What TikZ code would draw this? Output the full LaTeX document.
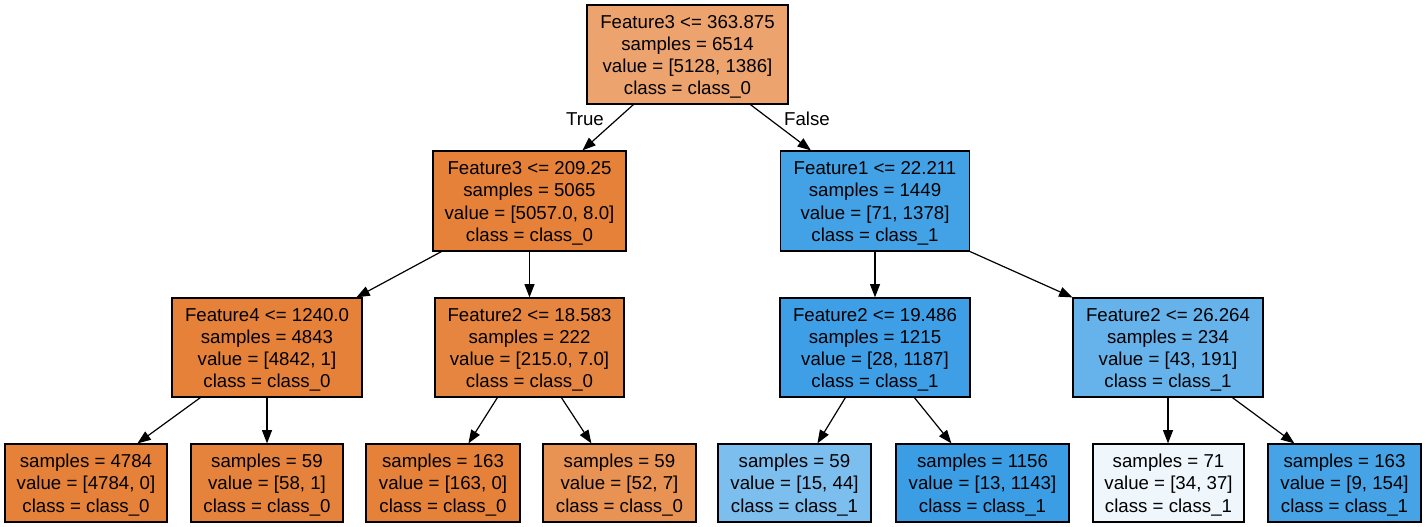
\documentclass[tikz,border=0pt]{standalone}
\usepackage{fontspec}
\setmainfont{Liberation Sans}
\usetikzlibrary{arrows.meta,calc}
\definecolor{cRoot}{RGB}{236,163,110}
\definecolor{cOr}{RGB}{229,129,57}
\definecolor{cOrA}{RGB}{230,133,63}
\definecolor{cOrB}{RGB}{229,131,60}
\definecolor{cOrC}{RGB}{232,146,84}
\definecolor{cBlA}{RGB}{67,162,230}
\definecolor{cBlB}{RGB}{62,159,230}
\definecolor{cBlC}{RGB}{102,179,235}
\definecolor{cBlD}{RGB}{124,190,238}
\definecolor{cBlE}{RGB}{59,158,229}
\definecolor{cBlF}{RGB}{239,247,253}
\definecolor{cBlG}{RGB}{69,163,230}
\newcommand{\tpad}{\rule{0pt}{13.2pt}}
\tikzset{
  bx/.style n args={2}{draw=black, line width=0.9pt, inner sep=0pt,
    minimum width=#1*0.75pt, minimum height=#2*0.75pt,
    align=center, font=\fontsize{14pt}{16.7pt}\selectfont},
  arr/.style={draw=black, line width=0.9pt, -{Triangle[length=10pt,width=7.5pt]}},
  lbl/.style={font=\fontsize{14pt}{16.7pt}\selectfont, inner sep=0pt}
}
\begin{document}
\begin{tikzpicture}[x=0.75pt,y=-0.75pt]
\useasboundingbox (0,0) rectangle (1426,527);
% level 0
\node[bx={201}{99}, fill=cRoot] (root) at (687.5,54.5)
  {\tpad Feature3 <= 363.875\\samples = 6514\\value = [5128, 1386]\\class = class\_0};
% level 1
\node[bx={193}{100}, fill=cOr] (n1) at (529.5,201)
  {\tpad Feature3 <= 209.25\\samples = 5065\\value = [5057.0, 8.0]\\class = class\_0};
\node[bx={189}{100}, fill=cBlA] (n2) at (875,201)
  {\tpad Feature1 <= 22.211\\samples = 1449\\value = [71, 1378]\\class = class\_1};
% level 2
\node[bx={190}{99}, fill=cOr] (n3) at (267,347.5)
  {\tpad Feature4 <= 1240.0\\samples = 4843\\value = [4842, 1]\\class = class\_0};
\node[bx={189}{99}, fill=cOrA] (n4) at (529.5,347.5)
  {\tpad Feature2 <= 18.583\\samples = 222\\value = [215.0, 7.0]\\class = class\_0};
\node[bx={190}{99}, fill=cBlB] (n5) at (875,347.5)
  {\tpad Feature2 <= 19.486\\samples = 1215\\value = [28, 1187]\\class = class\_1};
\node[bx={190}{99}, fill=cBlC] (n6) at (1168,347.5)
  {\tpad Feature2 <= 26.264\\samples = 234\\value = [43, 191]\\class = class\_1};
% leaves
\node[bx={162}{78}, fill=cOr] (l1) at (86,483)
  {\tpad samples = 4784\\value = [4784, 0]\\class = class\_0};
\node[bx={152}{78}, fill=cOrB] (l2) at (267,483)
  {\tpad samples = 59\\value = [58, 1]\\class = class\_0};
\node[bx={154}{78}, fill=cOr] (l3) at (443,483)
  {\tpad samples = 163\\value = [163, 0]\\class = class\_0};
\node[bx={153}{78}, fill=cOrC] (l4) at (619.5,483)
  {\tpad samples = 59\\value = [52, 7]\\class = class\_0};
\node[bx={153}{78}, fill=cBlD] (l5) at (794.5,483)
  {\tpad samples = 59\\value = [15, 44]\\class = class\_1};
\node[bx={173}{78}, fill=cBlE] (l6) at (982.5,483)
  {\tpad samples = 1156\\value = [13, 1143]\\class = class\_1};
\node[bx={151}{78}, fill=cBlF] (l7) at (1168.5,483)
  {\tpad samples = 71\\value = [34, 37]\\class = class\_1};
\node[bx={153}{78}, fill=cBlG] (l8) at (1344.5,483)
  {\tpad samples = 163\\value = [9, 154]\\class = class\_1};
% edge labels
\node[lbl] (tT) at (585,119) {True};
\node[lbl] (tF) at (807,119) {False};
% edges
\draw[arr] ($(root.south west)+(47,0)$) -- ($(n1.north west)+(150,0)$);
\draw[arr] ($(root.south west)+(164,0)$) -- ($(n2.north west)+(31,0)$);
\draw[arr] ($(n1.south west)+(9,0)$) -- ($(n3.north west)+(185,0)$);
\draw[arr] (n1.south) -- (n4.north);
\draw[arr] (n2.south) -- (n5.north);
\draw[arr] (n2.south east) -- (n6.north west);
\draw[arr] ($(n3.south west)+(29,0)$) -- ($(l1.north west)+(133,0)$);
\draw[arr] (n3.south) -- (l2.north);
\draw[arr] ($(n4.south west)+(63,0)$) -- ($(l3.north west)+(103,0)$);
\draw[arr] ($(n4.south west)+(127,0)$) -- ($(l4.north west)+(49,0)$);
\draw[arr] ($(n5.south west)+(66,0)$) -- ($(l5.north west)+(100,0)$);
\draw[arr] ($(n5.south west)+(135,0)$) -- ($(l6.north west)+(56,0)$);
\draw[arr] (n6.south) -- (n6.south |- l7.north);
\draw[arr] ($(n6.south west)+(160,0)$) -- ($(l8.north west)+(27,0)$);
\end{tikzpicture}
\end{document}
